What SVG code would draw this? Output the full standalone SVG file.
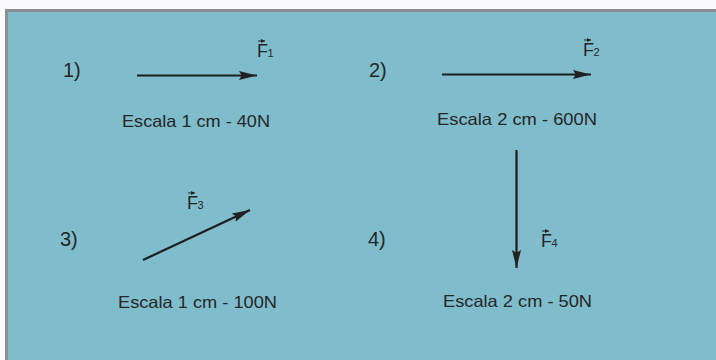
<svg xmlns="http://www.w3.org/2000/svg" width="716" height="360" viewBox="0 0 716 360">
<defs>
<marker id="head" viewBox="0 0 20 10" refX="20" refY="5" markerWidth="20" markerHeight="9" markerUnits="userSpaceOnUse" orient="auto">
<path d="M0,0 L20,5 L0,10 L3,5 Z" fill="#222"/>
</marker>
<marker id="mini" viewBox="0 0 10 10" refX="10" refY="5" markerWidth="4" markerHeight="4" markerUnits="userSpaceOnUse" orient="auto">
<path d="M0,0 L10,5 L0,10 Z" fill="#222"/>
</marker>
</defs>
<style>
.t{font-family:"Liberation Sans",Arial,sans-serif;fill:#262626}
.num{font-size:20px}
.esc{font-size:16.5px}
.f{font-size:18px}
.sub{font-size:11px}
.vec{stroke:#1e1e1e;stroke-width:2.2;fill:none}
.acc{stroke:#222;stroke-width:1;fill:none}
</style>
<rect x="0" y="0" width="716" height="360" fill="#fbfbfd"/>
<rect x="5" y="9" width="711" height="351" fill="#7fbdcc"/>
<path d="M6.5,360 V10.5 H716" fill="none" stroke="#8a8f96" stroke-width="3"/>

<g id="connectors">
<line class="vec" x1="137" y1="75.5" x2="257" y2="75.5" marker-end="url(#head)"/>
<line class="vec" x1="442" y1="74.5" x2="591" y2="74.5" marker-end="url(#head)"/>
<line class="vec" x1="143" y1="260" x2="250" y2="210" marker-end="url(#head)"/>
<line class="vec" x1="516.5" y1="150" x2="516.5" y2="268" marker-end="url(#head)"/>
</g>

<g id="item1">
<text class="t num" x="63" y="77">1)</text>
<text class="t f" x="257" y="57">F</text><text class="t sub" x="267.5" y="57">1</text>
<line class="acc" x1="258" y1="41" x2="265" y2="41" marker-end="url(#mini)"/>
<text class="t esc" x="122" y="127" textLength="148" lengthAdjust="spacingAndGlyphs">Escala 1 cm - 40N</text>
</g>

<g id="item2">
<text class="t num" x="369" y="77">2)</text>
<text class="t f" x="583" y="56">F</text><text class="t sub" x="593.5" y="56">2</text>
<line class="acc" x1="584" y1="40" x2="591" y2="40" marker-end="url(#mini)"/>
<text class="t esc" x="437" y="125" textLength="160" lengthAdjust="spacingAndGlyphs">Escala 2 cm - 600N</text>
</g>

<g id="item3">
<text class="t num" x="60" y="246">3)</text>
<text class="t f" x="187" y="209">F</text><text class="t sub" x="197.5" y="209">3</text>
<line class="acc" x1="188" y1="193" x2="195" y2="193" marker-end="url(#mini)"/>
<text class="t esc" x="118" y="308" textLength="159" lengthAdjust="spacingAndGlyphs">Escala 1 cm - 100N</text>
</g>

<g id="item4">
<text class="t num" x="368" y="246">4)</text>
<text class="t f" x="541" y="247">F</text><text class="t sub" x="551.5" y="247">4</text>
<line class="acc" x1="542" y1="231" x2="549" y2="231" marker-end="url(#mini)"/>
<text class="t esc" x="443" y="307" textLength="149" lengthAdjust="spacingAndGlyphs">Escala 2 cm - 50N</text>
</g>
</svg>
